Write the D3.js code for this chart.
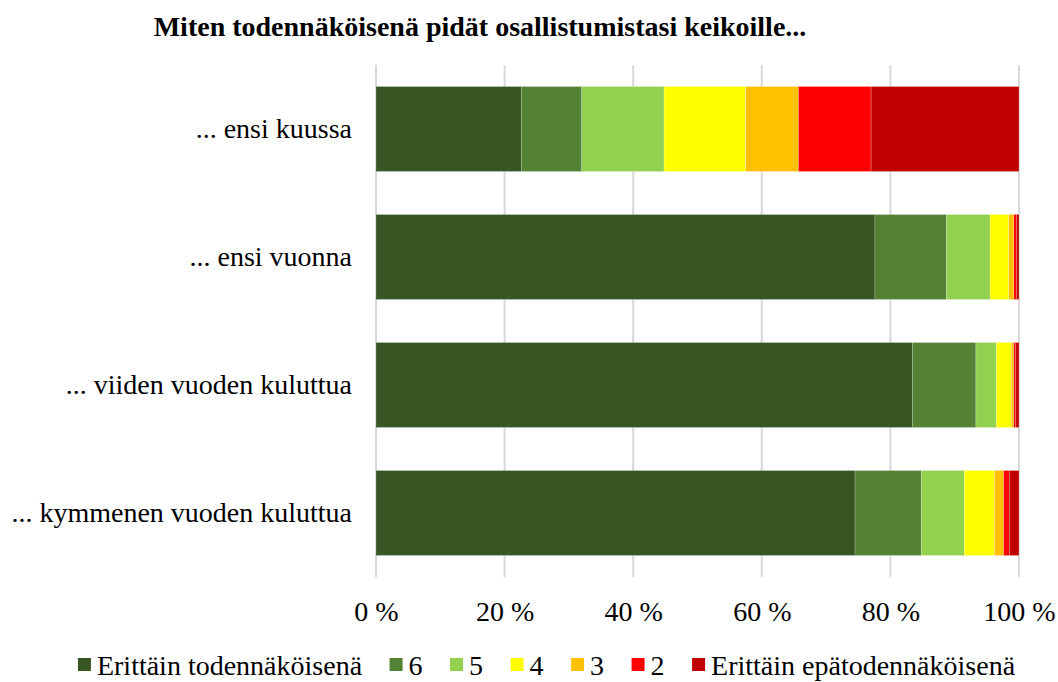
<!DOCTYPE html>
<html>
<head>
<meta charset="utf-8">
<script src="https://cdn.jsdelivr.net/npm/d3@7"></script>
<style>
  body { margin: 0; background: #fff; }
  text { font-family: "Liberation Serif", "Times New Roman", serif; }
</style>
</head>
<body>
<div id="chart"></div>
<script>
// categories (top to bottom)
const categories = ["... ensi kuussa", "... ensi vuonna", "... viiden vuoden kuluttua", "... kymmenen vuoden kuluttua"];
const seriesNames = ["Erittäin todennäköisenä", "6", "5", "4", "3", "2", "Erittäin epätodennäköisenä"];
const seriesColors = ["#375623", "#548235", "#92d050", "#ffff00", "#ffc000", "#ff0000", "#c00000"];
// percentage shares per category, one array per category, in series order
const ensiKuussa = [22.6, 9.4, 12.8, 12.7, 8.2, 11.3, 23.0];
const ensiVuonna = [77.6, 11.1, 6.8, 2.9, 0.8, 0.4, 0.4];
const viidenVuoden = [83.4, 9.9, 3.2, 2.3, 0.4, 0.3, 0.5];
const kymmenenVuoden = [74.5, 10.3, 6.7, 4.7, 1.4, 0.9, 1.5];
const tickValues = [0, 20, 40, 60, 80, 100];

const values = [ensiKuussa, ensiVuonna, viidenVuoden, kymmenenVuoden];
const width = 1058, height = 682;
const margin = {top: 65, right: 39, bottom: 105, left: 376};
const fontFamily = '"Liberation Serif", "Times New Roman", serif';

const svg = d3.select("#chart").append("svg")
    .attr("width", width)
    .attr("height", height);

const rows = categories.map((c, i) => {
    const row = {category: c};
    seriesNames.forEach((s, j) => row[s] = values[i][j]);
    return row;
});

const stack = d3.stack().keys(seriesNames).offset(d3.stackOffsetExpand);
const stacked = stack(rows);

const x = d3.scaleLinear().domain([0, 1]).range([margin.left, width - margin.right]);
const y = d3.scaleBand().domain(categories)
    .range([margin.top, height - margin.bottom])
    .paddingInner(0.336).paddingOuter(0.168);

// gridlines
svg.append("g")
    .selectAll("line")
    .data(tickValues)
    .join("line")
    .attr("x1", d => x(d / 100)).attr("x2", d => x(d / 100))
    .attr("y1", margin.top).attr("y2", height - margin.bottom)
    .attr("stroke", "#d9d9d9")
    .attr("stroke-width", 2);

// bars
svg.append("g")
    .selectAll("g")
    .data(stacked)
    .join("g")
    .attr("fill", (d, i) => seriesColors[i])
    .selectAll("rect")
    .data(d => d)
    .join("rect")
    .attr("x", d => x(d[0]))
    .attr("width", d => x(d[1]) - x(d[0]))
    .attr("y", d => y(d.data.category))
    .attr("height", y.bandwidth())
    .attr("stroke", "#fff")
    .attr("stroke-opacity", 0.35)
    .attr("stroke-width", 0.6);

// x axis labels
const xAxis = d3.axisBottom(x)
    .tickValues(tickValues.map(d => d / 100))
    .tickFormat(d => Math.round(d * 100) + " %")
    .tickSize(0)
    .tickPadding(0);
const gx = svg.append("g")
    .attr("transform", `translate(0,${height - margin.bottom + 24})`)
    .call(xAxis);
gx.select(".domain").remove();
gx.selectAll("text")
    .style("font-family", fontFamily)
    .attr("font-size", 28)
    .attr("fill", "#000");

// y axis labels
const yAxis = d3.axisLeft(y).tickSize(0).tickPadding(24);
const gy = svg.append("g")
    .attr("transform", `translate(${margin.left},0)`)
    .call(yAxis);
gy.select(".domain").remove();
gy.selectAll("text")
    .style("font-family", fontFamily)
    .attr("font-size", 28)
    .attr("fill", "#000");

// title
svg.append("text")
    .attr("x", 480)
    .attr("y", 36)
    .attr("text-anchor", "middle")
    .attr("font-size", 28)
    .attr("font-weight", "bold")
    .text("Miten todennäköisenä pidät osallistumistasi keikoille...");

// legend
const legend = svg.append("g").attr("transform", "translate(0,665)");
const items = legend.selectAll("g")
    .data(seriesNames)
    .join("g");
items.append("rect")
    .attr("width", 13).attr("height", 13)
    .attr("y", -7)
    .attr("fill", (d, i) => seriesColors[i]);
items.append("text")
    .attr("x", 19)
    .attr("y", 0)
    .attr("dy", "0.35em")
    .attr("font-size", 28)
    .text(d => d);

const gap = 27.5;
let pos = 0;
const offsets = [];
items.each(function() {
    offsets.push(pos);
    const w = d3.select(this).select("text").node().getComputedTextLength();
    pos += 19 + w + gap;
});
const total = pos - gap;
const start = (78 + 1015) / 2 - total / 2;
items.attr("transform", (d, i) => `translate(${start + offsets[i]},0)`);
</script>
</body>
</html>
